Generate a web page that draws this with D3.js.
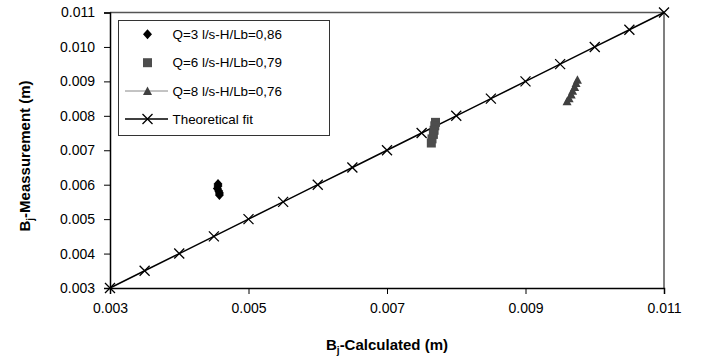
<!DOCTYPE html>
<html><head><meta charset="utf-8">
<script src="https://cdn.jsdelivr.net/npm/d3@7"></script>
<style>
body{margin:0;background:#fff;}
svg{display:block;font-family:"Liberation Sans",Arial,sans-serif;}
</style></head>
<body><svg id="c" width="701" height="364"></svg>
<script>
// ---- data ----
const fitX = [0.003,0.0035,0.004,0.0045,0.005,0.0055,0.006,0.0065,0.007,0.0075,0.008,0.0085,0.009,0.0095,0.010,0.0105,0.011];
const fitY = [0.003,0.0035,0.004,0.0045,0.005,0.0055,0.006,0.0065,0.007,0.0075,0.008,0.0085,0.009,0.0095,0.010,0.0105,0.011];
const s1X = [0.00456,0.00456,0.00455,0.00457,0.00458,0.00458];
const s1Y = [0.00602,0.00596,0.00589,0.00582,0.00576,0.00570];
const s2X = [0.00770,0.00769,0.00768,0.00767,0.00765,0.00764];
const s2Y = [0.00781,0.00771,0.00758,0.00746,0.00733,0.00721];
const s3X = [0.00975,0.00973,0.00971,0.00968,0.00966,0.00963,0.00960];
const s3Y = [0.00905,0.00895,0.00884,0.00873,0.00862,0.00851,0.00842];
const xTicks = [0.003,0.005,0.007,0.009,0.011];
const yTicks = [0.003,0.004,0.005,0.006,0.007,0.008,0.009,0.010,0.011];
const legendLabels = ["Q=3 l/s-H/Lb=0,86","Q=6 l/s-H/Lb=0,79","Q=8 l/s-H/Lb=0,76","Theoretical fit"];

const svg = d3.select("#c");
const L=110, R=664, T=12.5, B=288;
const x = d3.scaleLinear().domain([0.003,0.011]).range([L,R]);
const y = d3.scaleLinear().domain([0.003,0.011]).range([B,T]);

// frame (top/right)
svg.append("path").attr("d",`M${L},${T}H${R}V${B}`).attr("fill","none").attr("stroke","#555").attr("stroke-width",1.5);

// axes
const xa = svg.append("g").attr("transform",`translate(0,${B})`)
  .call(d3.axisBottom(x).tickValues(xTicks).tickFormat(d3.format(".3f")).tickSize(6).tickPadding(6));
const ya = svg.append("g").attr("transform",`translate(${L},0)`)
  .call(d3.axisLeft(y).tickValues(yTicks).tickFormat(d3.format(".3f")).tickSize(6).tickPadding(9));
[xa,ya].forEach(a=>{
  a.select(".domain").attr("stroke","#000").attr("stroke-width",1.5);
  a.selectAll(".tick line").attr("stroke","#000").attr("stroke-width",1);
  a.selectAll(".tick text").attr("font-size",14).attr("fill","#000").attr("font-family","Liberation Sans,Arial,sans-serif");
});
xa.selectAll(".tick text").attr("dy","0.9em");

// theoretical fit
const fit = fitX.map((v,i)=>[v,fitY[i]]);
svg.append("path").datum(fit).attr("d",d3.line().x(d=>x(d[0])).y(d=>y(d[1])))
  .attr("fill","none").attr("stroke","#000").attr("stroke-width",1.5);
const cross = "M-5,-5L5,5M-5,5L5,-5";
svg.append("g").selectAll("path").data(fit).join("path")
  .attr("transform",d=>`translate(${x(d[0])},${y(d[1])})`).attr("d",cross)
  .attr("stroke","#000").attr("stroke-width",1.3).attr("fill","none");

// series
const diamond = "M0,-5L4.5,0L0,5L-4.5,0Z";
const square = "M-4.5,-4.5H4.5V4.5H-4.5Z";
const tri = "M0,-4.5L4.5,4L-4.5,4Z";
const s1 = s1X.map((v,i)=>[v,s1Y[i]]);
const s2 = s2X.map((v,i)=>[v,s2Y[i]]);
const s3 = s3X.map((v,i)=>[v,s3Y[i]]);
svg.append("path").datum(s3).attr("d",d3.line().x(d=>x(d[0])).y(d=>y(d[1])))
  .attr("fill","none").attr("stroke","#888").attr("stroke-width",1);
function pts(data,shape,col){
  svg.append("g").selectAll("path").data(data).join("path")
    .attr("transform",d=>`translate(${x(d[0])},${y(d[1])})`).attr("d",shape).attr("fill",col);
}
pts(s1,diamond,"#000");
pts(s2,square,"#4d4d4d");
pts(s3,tri,"#404040");

// legend
const lg = svg.append("g");
lg.append("rect").attr("x",118.5).attr("y",20.5).attr("width",211).attr("height",115)
  .attr("fill","#fff").attr("stroke","#333").attr("stroke-width",1);
const rows=[34.3,62.7,91,119];
const sx=147.5;
lg.append("path").attr("transform",`translate(${sx},${rows[0]})`).attr("d",diamond).attr("fill","#000");
lg.append("path").attr("transform",`translate(${sx},${rows[1]})`).attr("d",square).attr("fill","#4d4d4d");
lg.append("line").attr("x1",125).attr("x2",168).attr("y1",rows[2]).attr("y2",rows[2]).attr("stroke","#888").attr("stroke-width",1);
lg.append("path").attr("transform",`translate(${sx},${rows[2]})`).attr("d",tri).attr("fill","#404040");
lg.append("line").attr("x1",125).attr("x2",168).attr("y1",rows[3]).attr("y2",rows[3]).attr("stroke","#000").attr("stroke-width",1.5);
lg.append("path").attr("transform",`translate(${sx},${rows[3]})`).attr("d",cross).attr("stroke","#000").attr("stroke-width",1.3);
lg.selectAll("text").data(legendLabels).join("text")
  .attr("x",172.5).attr("y",(d,i)=>rows[i]).attr("dy","0.35em").attr("font-size",13.4).attr("fill","#000").text(d=>d);

// axis titles
const xt = svg.append("text").attr("x",(L+R)/2).attr("y",350).attr("text-anchor","middle")
  .attr("font-size",15).attr("font-weight","bold");
xt.append("tspan").text("B");
xt.append("tspan").attr("font-size",10).attr("dy",4).text("j");
xt.append("tspan").attr("dy",-4).text("-Calculated (m)");
const yt = svg.append("text").attr("transform",`translate(30,156) rotate(-90)`).attr("text-anchor","middle")
  .attr("font-size",15).attr("font-weight","bold");
yt.append("tspan").text("B");
yt.append("tspan").attr("font-size",10).attr("dy",4).text("j");
yt.append("tspan").attr("dy",-4).text("-Meassurement (m)");
</script></body></html>
